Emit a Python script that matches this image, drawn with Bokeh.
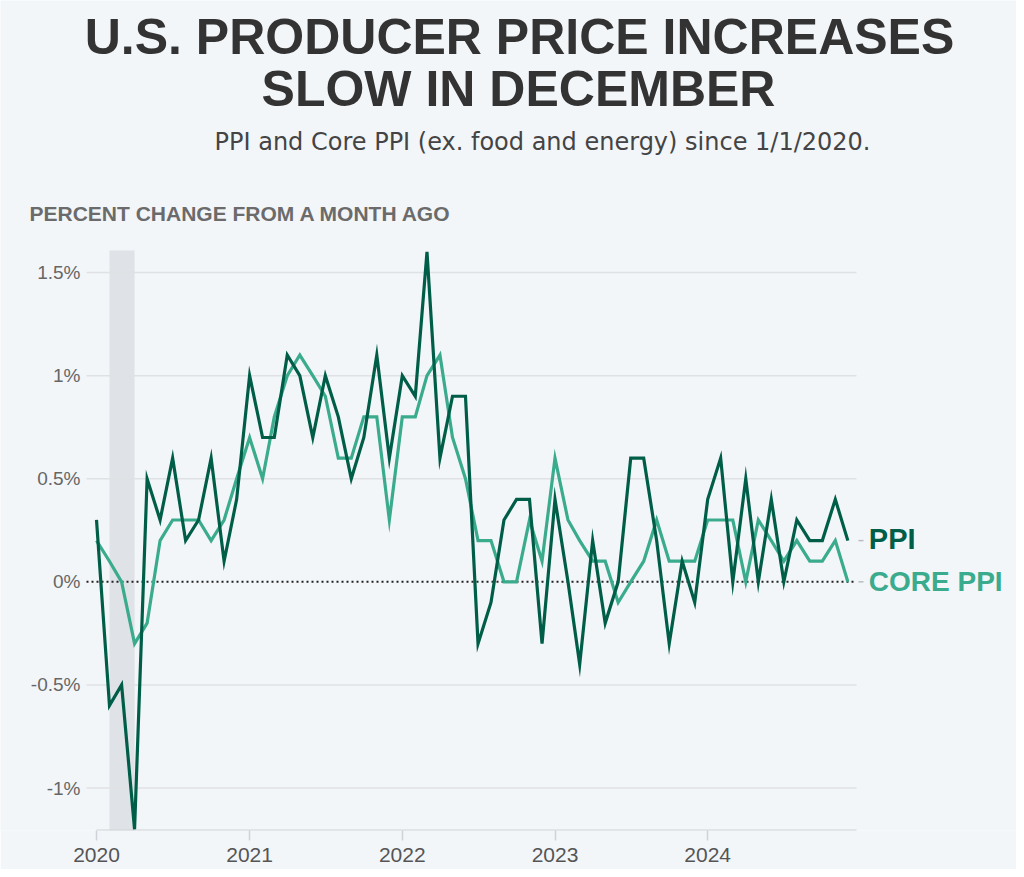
import pandas as pd
from bokeh.plotting import figure
from bokeh.models import BoxAnnotation, Range1d, FixedTicker, ColumnDataSource
from bokeh.core.properties import value
from bokeh.embed import file_html
from bokeh.resources import INLINE

# ---------------- data ----------------
months = pd.date_range("2020-01-01", "2024-12-01", freq="MS")

ppi = [0.3, -0.6, -0.5, -1.2, 0.5, 0.3, 0.6, 0.2, 0.3, 0.6, 0.1, 0.4,
       1.0, 0.7, 0.7, 1.1, 1.0, 0.7, 1.0, 0.8, 0.5, 0.7, 1.1, 0.6,
       1.0, 0.9, 1.6, 0.6, 0.9, 0.9, -0.3, -0.1, 0.3, 0.4, 0.4, -0.3,
       0.4, 0.0, -0.4, 0.2, -0.2, 0.0, 0.6, 0.6, 0.2, -0.3, 0.1, -0.1,
       0.4, 0.6, 0.0, 0.5, 0.0, 0.4, 0.0, 0.3, 0.2, 0.2, 0.4, 0.2]

core_ppi = [0.2, 0.1, 0.0, -0.3, -0.2, 0.2, 0.3, 0.3, 0.3, 0.2, 0.3, 0.5,
            0.7, 0.5, 0.8, 1.0, 1.1, 1.0, 0.9, 0.6, 0.6, 0.8, 0.8, 0.3,
            0.8, 0.8, 1.0, 1.1, 0.7, 0.5, 0.2, 0.2, 0.0, 0.0, 0.3, 0.1,
            0.6, 0.3, 0.2, 0.1, 0.1, -0.1, 0.0, 0.1, 0.3, 0.1, 0.1, 0.1,
            0.3, 0.3, 0.3, 0.0, 0.3, 0.2, 0.1, 0.2, 0.1, 0.1, 0.2, 0.0]

year_labels = ["2020", "2021", "2022", "2023", "2024"]
y_ticks = [-1, -0.5, 0, 0.5, 1, 1.5]
y_tick_labels = ["-1%", "-0.5%", "0%", "0.5%", "1%", "1.5%"]
recession = ("2020-02-01", "2020-04-01")

title_lines = ["U.S. PRODUCER PRICE INCREASES", "SLOW IN DECEMBER"]
subtitle = "PPI and Core PPI (ex. food and energy) since 1/1/2020."
axis_title = "PERCENT CHANGE FROM A MONTH AGO"
series_names = ["PPI", "CORE PPI"]

# ---------------- styling / layout ----------------
BG = "#f3f6f9"
DARK = "#005e48"
LIGHT = "#3bab8d"
FONT = "Liberation Sans"
W, H = 1016, 869
BOTTOM_BORDER = 39
PLOT_TOP_PX, PLOT_BOTTOM_PX = 250, 830      # drawing area of the chart
PLOT_LEFT_PX, PLOT_RIGHT_PX = 86, 856
JAN2020_PX = 96
PX_PER_YEAR = 152.8
Y0, Y1 = -1.206, 1.607                       # value range of the chart area
PX_PER_UNIT = (PLOT_BOTTOM_PX - PLOT_TOP_PX) / (Y1 - Y0)

jan2020 = pd.Timestamp("2020-01-01")


def px_x(px):
    """horizontal canvas pixel -> date"""
    return jan2020 + pd.Timedelta(days=(px - JAN2020_PX) / PX_PER_YEAR * 365.25)


def px_y(py):
    """vertical canvas pixel (from top) -> value"""
    return Y0 + (PLOT_BOTTOM_PX - py) / PX_PER_UNIT


frame_top_val = px_y(0)
grid_start, grid_end = px_x(PLOT_LEFT_PX), px_x(PLOT_RIGHT_PX)

src = ColumnDataSource(dict(date=months, ppi=ppi, core=core_ppi))

p = figure(width=W, height=H, x_axis_type="datetime", y_axis_location=None,
           x_range=Range1d(px_x(0), px_x(W)), y_range=Range1d(Y0, frame_top_val),
           output_backend="svg", toolbar_location=None,
           min_border_left=0, min_border_right=0,
           min_border_top=0, min_border_bottom=BOTTOM_BORDER)
p.background_fill_color = BG
p.border_fill_color = BG
p.outline_line_color = None
p.xgrid.grid_line_color = None
p.ygrid.grid_line_color = None

# ---------------- titles ----------------
p.text(x=[px_x(519), px_x(518)], y=[px_y(36), px_y(88)], text=title_lines,
       text_font=value(FONT), text_font_style="bold", text_font_size="50px",
       text_color="#333333", text_align="center", text_baseline="middle")
p.text(x=[px_x(542)], y=[px_y(141)], text=[subtitle],
       text_font=value("DejaVu Sans"), text_font_size="24px",
       text_color="#444444", text_align="center", text_baseline="middle")
p.text(x=[px_x(29)], y=[px_y(213)], text=[axis_title],
       text_font=value(FONT), text_font_style="bold", text_font_size="21px",
       text_color="#6b6b6b", text_align="left", text_baseline="middle")

# ---------------- chart ----------------
# recession shading
p.add_layout(BoxAnnotation(left=pd.Timestamp(recession[0]), right=pd.Timestamp(recession[1]),
                           bottom=Y0, top=Y1,
                           fill_color="#dfe2e6", fill_alpha=1.0, line_color=None,
                           level="underlay"))

# horizontal gridlines
grid_vals = [t for t in y_ticks if t != 0]
p.segment(x0=[grid_start] * len(grid_vals), y0=grid_vals,
          x1=[grid_end] * len(grid_vals), y1=grid_vals,
          line_color="#dfe1e4", line_width=1.5)

# y tick labels, placed through the y scale
p.text(x=[grid_start] * len(y_ticks), y=y_ticks, text=y_tick_labels, x_offset=-6,
       text_font=value(FONT), text_font_size="19px", text_color="#666666",
       text_align="right", text_baseline="middle")

# x axis
year_ms = [pd.Timestamp(f"{y}-01-01").value // 10**6 for y in year_labels]
p.xaxis.ticker = FixedTicker(ticks=year_ms)
p.xaxis.major_label_overrides = {t: lab for t, lab in zip(year_ms, year_labels)}
p.xaxis.axis_line_color = None
p.xaxis.major_tick_line_color = "#cfd2d6"
p.xaxis.major_tick_line_width = 1.5
p.xaxis.major_tick_out = 10
p.xaxis.major_tick_in = 0
p.xaxis.minor_tick_line_color = None
p.xaxis.major_label_standoff = 7
p.xaxis.major_label_text_font = FONT
p.xaxis.major_label_text_font_size = "21px"
p.xaxis.major_label_text_color = "#555555"

# x-axis baseline (starts at first month)
p.segment(x0=[months[0]], y0=[Y0], x1=[grid_end], y1=[Y0],
          line_color="#cfd2d6", line_width=2)

# zero line
p.segment(x0=[grid_start], y0=[0], x1=[grid_end], y1=[0],
          line_color="#222222", line_width=2, line_dash="2 3")

# series
p.line("date", "core", source=src, line_color=LIGHT, line_width=3.2, line_join="miter")
p.line("date", "ppi", source=src, line_color=DARK, line_width=3.2, line_join="miter")

# small leader marks between the line ends and the labels
ends = [ppi[-1], core_ppi[-1]]
p.segment(x0=[px_x(858)] * 2, y0=ends, x1=[px_x(863)] * 2, y1=ends,
          line_color="#b8bcc0", line_width=1.5)

# end labels
p.text(x=[months[-1]], y=[ppi[-1]], text=[series_names[0]], x_offset=21, y_offset=-2,
       text_font=value(FONT), text_font_style="bold", text_font_size="29px",
       text_color=DARK, text_align="left", text_baseline="middle")
p.text(x=[months[-1]], y=[core_ppi[-1]], text=[series_names[1]], x_offset=21,
       text_font=value(FONT), text_font_style="bold", text_font_size="28px",
       text_color=LIGHT, text_align="left", text_baseline="middle")

open("out.html", "w").write(file_html(p, INLINE))
